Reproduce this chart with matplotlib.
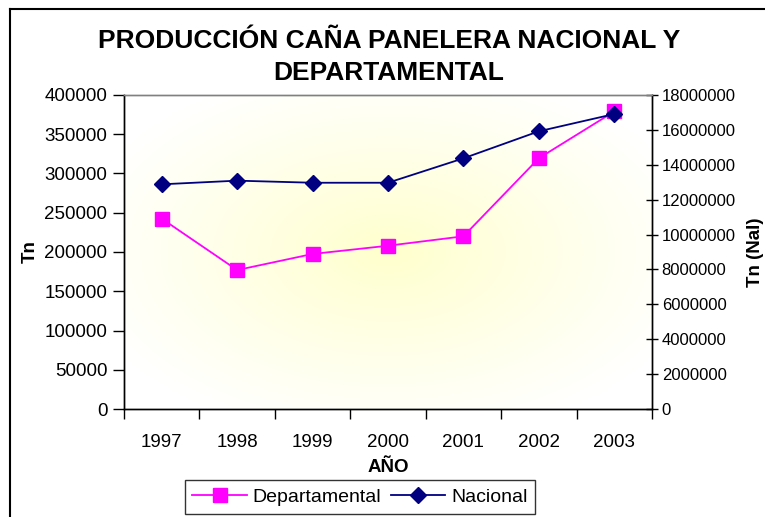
import numpy as np
import matplotlib
matplotlib.use("Agg")
import matplotlib.pyplot as plt
from matplotlib.lines import Line2D

plt.rcParams['font.family'] = ['Liberation Sans', 'DejaVu Sans']

years = ['1997', '1998', '1999', '2000', '2001', '2002', '2003']
departamental = [242500, 177000, 197500, 208000, 220000, 319500, 379000]
nacional = [12880000, 13090000, 12970000, 12970000, 14370000, 15920000, 16910000]

fig = plt.figure(figsize=(7.65, 5.17), dpi=100)
ax = fig.add_axes([124 / 765, 1 - 409 / 517, (652 - 124) / 765, (409 - 95) / 517])

# radial yellow wash behind the plot area
gx, gy = np.meshgrid(np.linspace(-1, 1, 300), np.linspace(-1, 1, 300))
r = np.clip(np.sqrt(gx ** 2 + gy ** 2) / 1.2, 0, 1) ** 0.9
c0 = np.array([1.0, 1.0, 0.80])
c1 = np.array([1.0, 1.0, 1.0])
img = c0[None, None, :] * (1 - r[..., None]) + c1[None, None, :] * r[..., None]
ax.imshow(img, extent=[0, 1, 0, 1], transform=ax.transAxes, aspect='auto', zorder=0)

x = np.arange(len(years))
ax.plot(x, departamental, color='#FF00FF', lw=1.3, marker='s', ms=10,
        mfc='#FF00FF', mec='#FF00FF', zorder=3)
ax.set_xlim(-0.5, 6.5)
ax.set_ylim(0, 400000)
ax.set_yticks(np.arange(0, 400001, 50000))
ax.set_xticks(x)
ax.set_xticklabels(years, fontsize=13.5)
ax.set_xticks(np.arange(-0.5, 7, 1), minor=True)
ax.tick_params(axis='x', which='major', length=0, pad=18)
ax.tick_params(axis='x', which='minor', length=7, direction='out', width=1)
ax.tick_params(axis='y', length=8, direction='out', width=1, labelsize=13.5, pad=4)
ax.set_ylabel('Tn', fontsize=13.5, fontweight='bold', labelpad=4)
ax.set_xlabel('AÑO', fontsize=13.5, fontweight='bold', labelpad=6)

ax2 = ax.twinx()
ax2.plot(x, nacional, color='#000080', lw=1.3, marker='D', ms=8,
         mfc='#000080', mec='#000080', zorder=3)
ax2.set_ylim(0, 18000000)
ax2.set_yticks(np.arange(0, 18000001, 2000000))
ax2.yaxis.set_major_formatter(plt.FuncFormatter(lambda v, p: '%d' % v))
ax2.tick_params(axis='y', length=8, direction='inout', width=1, labelsize=12, pad=3)
ax2.set_ylabel('Tn (Nal)', fontsize=13.5, fontweight='bold', labelpad=8)

for a in (ax, ax2):
    for s in a.spines.values():
        s.set_linewidth(1)
    a.spines['top'].set_color('#808080')

fig.text(389 / 765, 1 - 57 / 517, 'PRODUCCIÓN CAÑA PANELERA NACIONAL Y\nDEPARTAMENTAL',
         ha='center', va='center', fontsize=19, fontweight='bold', linespacing=1.4)

handles = [
    Line2D([], [], color='#FF00FF', lw=1.3, marker='s', ms=10, mfc='#FF00FF', mec='#FF00FF'),
    Line2D([], [], color='#000080', lw=1.3, marker='D', ms=8, mfc='#000080', mec='#000080'),
]
leg = fig.legend(handles, ['Departamental', 'Nacional'], loc='center',
                 bbox_to_anchor=(360 / 765, 1 - 497 / 517), ncol=2, fontsize=14,
                 frameon=True, fancybox=False, handlelength=2.8, columnspacing=0.5,
                 handletextpad=0.3, borderpad=0.4, borderaxespad=0)
leg.get_frame().set_edgecolor('black')
leg.get_frame().set_linewidth(1)

# chart border (only left and top visible in the crop)
fig.add_artist(Line2D([9.5 / 765, 9.5 / 765], [0, 1 - 8.5 / 517], color='black', lw=1.5))
fig.add_artist(Line2D([9.5 / 765, 1], [1 - 8.5 / 517, 1 - 8.5 / 517], color='black', lw=1.5))

fig.savefig('out.png', dpi=100)
